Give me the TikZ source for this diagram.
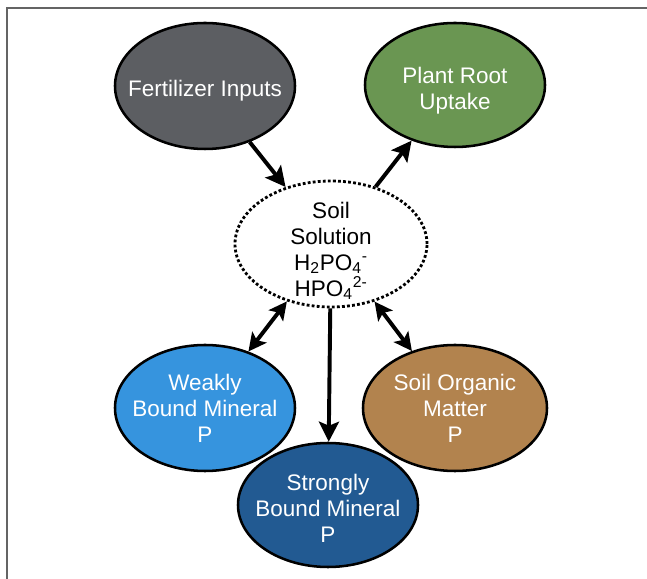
\documentclass[tikz,border=0pt]{standalone}
\usepackage{fontspec}
\setmainfont{Liberation Sans}
\usetikzlibrary{shapes, arrows.meta}

\definecolor{fertgray}{RGB}{92,94,98}
\definecolor{rootgreen}{RGB}{106,150,82}
\definecolor{weakblue}{RGB}{54,148,222}
\definecolor{sombrown}{RGB}{178,131,78}
\definecolor{strongblue}{RGB}{34,90,146}
\definecolor{framegray}{RGB}{100,100,100}

\begin{document}
\begin{tikzpicture}[
	pool/.style={ellipse, draw=black, line width=1.8pt, inner xsep=-0.45cm, inner ysep=-0.4cm,
		minimum width=4.5cm, minimum height=3.15cm, align=center,
		text=white, font=\fontsize{16}{18.5}\selectfont},
	flow/.style={line width=2.8pt, -{Stealth[length=5mm, width=5mm, inset=1mm]}},
	swap/.style={line width=2.8pt, {Stealth[length=4.5mm, width=4.5mm, inset=1mm]}-{Stealth[length=4.5mm, width=4.5mm, inset=1mm]}}
	]
		\def\xn{3.1}
		\def\yn{4}
		\useasboundingbox (-8.275, -8.375) rectangle (7.9, 6.1);
		\draw[framegray, line width=1.4pt] (-8.1, -8.375) -- (-8.1, 5.9) -- (7.9, 5.9);
		\node[ellipse, draw=black, line width=2pt, dash pattern=on 2pt off 1.6pt,
			minimum width=4.8cm, minimum height=3.15cm, inner xsep=-0.4cm, inner ysep=-0.5cm, align=center,
			text height=77pt, font=\fontsize{16}{18.5}\selectfont] (soil) at (0, 0)
			{Soil\\Solution\\H\textsubscript{2}PO\textsubscript{4}\textsuperscript{-}\\HPO\textsubscript{4}\textsuperscript{2-}};
		\node[pool, fill=fertgray, text height=18.5pt] (fert) at (-\xn-0.05, \yn-0.05) {Fertilizer Inputs};
		\node[pool, fill=rootgreen, minimum height=3.1cm, text height=38.5pt] (root) at (\xn, \yn-0.025) {Plant Root\\Uptake};
		\node[pool, fill=weakblue] (weak) at (-\xn-0.05, -\yn-0.1) {Weakly\\Bound Mineral\\P};
		\node[pool, fill=sombrown, minimum width=4.6cm] (som) at (\xn, -\yn-0.1) {Soil Organic\\Matter\\P};
		\node[pool, fill=strongblue, minimum height=3.1cm, text height=54pt] (strong) at (-0.075, -6.525) {Strongly\\Bound Mineral\\P};
		\draw[flow] (fert) -- (soil);
		\draw[flow] (soil) -- (root);
		\draw[swap] (weak) -- (soil);
		\draw[swap] (som) -- (soil);
		\draw[flow] (soil) -- (strong);
	\end{tikzpicture}
\end{document}
